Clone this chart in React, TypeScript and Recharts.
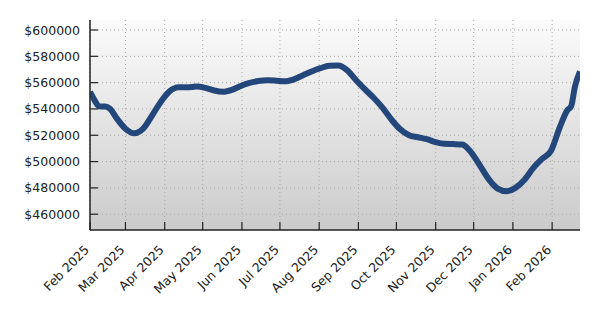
import React from 'react';
import { LineChart, Line, XAxis, YAxis, CartesianGrid } from 'recharts';

// sample dates and values
const dates = [
  '2025-02-01', '2025-02-05', '2025-02-08', '2025-02-13', '2025-02-17', '2025-02-22',
  '2025-03-01', '2025-03-08', '2025-03-15', '2025-03-22', '2025-03-29',
  '2025-04-05', '2025-04-12', '2025-04-19', '2025-04-26',
  '2025-05-03', '2025-05-10', '2025-05-17', '2025-05-24', '2025-05-31',
  '2025-06-07', '2025-06-14', '2025-06-21', '2025-06-28',
  '2025-07-05', '2025-07-12', '2025-07-19', '2025-07-26',
  '2025-08-02', '2025-08-09', '2025-08-16', '2025-08-23', '2025-08-30',
  '2025-09-06', '2025-09-13', '2025-09-20', '2025-09-27',
  '2025-10-04', '2025-10-11', '2025-10-18', '2025-10-25',
  '2025-11-01', '2025-11-08', '2025-11-15', '2025-11-22', '2025-11-29',
  '2025-12-06', '2025-12-13', '2025-12-20', '2025-12-27',
  '2026-01-03', '2026-01-10', '2026-01-17', '2026-01-24', '2026-01-31',
  '2026-02-07', '2026-02-13', '2026-02-16', '2026-02-19', '2026-02-23',
];

const prices = [
  553000, 546000, 542000, 541800, 540000, 533000,
  525000, 521500, 525000, 535000, 545500,
  553500, 556500, 556500, 557000,
  556000, 554000, 553000, 554500, 557500,
  559800, 561200, 561800, 561500,
  561000, 562500, 565500, 568500,
  571000, 572800, 573000, 569500, 562000,
  555000, 548500, 541000, 532000,
  524500, 520000, 518500, 517000,
  514800, 513500, 513300, 513000, 507000,
  497000, 486500, 479500, 477500,
  480000, 486000, 495000, 502000, 508000,
  526000, 539000, 542000, 557000, 568500,
];

const monthTicks = [
  '2025-02-01', '2025-03-01', '2025-04-01', '2025-05-01', '2025-06-01', '2025-07-01',
  '2025-08-01', '2025-09-01', '2025-10-01', '2025-11-01', '2025-12-01', '2026-01-01', '2026-02-01',
];
const monthLabels = [
  'Feb 2025', 'Mar 2025', 'Apr 2025', 'May 2025', 'Jun 2025', 'Jul 2025',
  'Aug 2025', 'Sep 2025', 'Oct 2025', 'Nov 2025', 'Dec 2025', 'Jan 2026', 'Feb 2026',
];
const priceTicks = [460000, 480000, 500000, 520000, 540000, 560000, 580000, 600000];

const START = Date.UTC(2025, 1, 1);
const toDay = (s: string) => {
  const [y, m, d] = s.split('-').map(Number);
  return Math.round((Date.UTC(y, m - 1, d) - START) / 86400000);
};

const data = dates.map((d, i) => ({ day: toDay(d), price: prices[i] }));
const tickDays = monthTicks.map(toDay);

const FONT = '"DejaVu Sans", sans-serif';
const INK = '#222';

const BottomTick = (props: any) => {
  const { x, y, payload } = props;
  const i = tickDays.indexOf(payload.value);
  return (
    <g>
      <line x1={x} x2={x} y1={y - 8} y2={y - 16} stroke={INK} strokeWidth={1.2} />
      <text
        x={x}
        y={y}
        dx={-9}
        dy={9}
        textAnchor="end"
        transform={`rotate(-45, ${x}, ${y})`}
        fontSize={12.5}
        fontFamily={FONT}
        fill={INK}
      >
        {monthLabels[i]}
      </text>
    </g>
  );
};

const TopTick = (props: any) => {
  const { x, y } = props;
  return <line x1={x} x2={x} y1={y + 8} y2={y + 16} stroke={INK} strokeWidth={1.2} />;
};

const LeftTick = (props: any) => {
  const { x, y, payload } = props;
  return (
    <g>
      <line x1={x + 10} x2={x + 18} y1={y} y2={y} stroke={INK} strokeWidth={1.2} />
      <text x={x} y={y} dy={4.5} textAnchor="end" fontSize={12.5} fontFamily={FONT} fill={INK}>
        {'$' + payload.value}
      </text>
    </g>
  );
};

const RightTick = (props: any) => {
  const { x, y } = props;
  return <line x1={x - 10} x2={x - 18} y1={y} y2={y} stroke={INK} strokeWidth={1.2} />;
};

export default function App() {
  return (
    <div style={{ position: 'absolute', left: 0, top: 0, width: 594, height: 325, background: '#fff' }}>
      <LineChart width={594} height={325} data={data} margin={{ top: 20, right: 14, left: 0, bottom: 0 }}>
        <defs>
          <linearGradient id="bg" x1="0" y1="0" x2="0" y2="1">
            <stop offset="0%" stopColor="#fbfbfb" />
            <stop offset="100%" stopColor="#cbcbcb" />
          </linearGradient>
        </defs>
        <CartesianGrid
          fill="url(#bg)"
          stroke="#a8a8a8"
          strokeDasharray="1 3"
          verticalValues={tickDays}
          horizontalValues={priceTicks}
        />
        <XAxis
          dataKey="day"
          type="number"
          domain={[0, 387]}
          allowDataOverflow
          ticks={tickDays}
          interval={0}
          height={95}
          tickSize={0}
          tickMargin={8}
          tickLine={false}
          axisLine={{ stroke: INK, strokeWidth: 1.5 }}
          tick={<BottomTick />}
        />
        <XAxis
          xAxisId="top"
          orientation="top"
          dataKey="day"
          type="number"
          domain={[0, 387]}
          allowDataOverflow
          ticks={tickDays}
          interval={0}
          height={0}
          tickSize={0}
          tickMargin={8}
          tickLine={false}
          axisLine={{ stroke: INK, strokeWidth: 1.5 }}
          tick={<TopTick />}
        />
        <YAxis
          type="number"
          domain={[448000, 607600]}
          allowDataOverflow
          ticks={priceTicks}
          interval={0}
          width={90}
          tickSize={0}
          tickMargin={10}
          tickLine={false}
          axisLine={{ stroke: INK, strokeWidth: 1.5 }}
          tick={<LeftTick />}
        />
        <YAxis
          yAxisId="r"
          orientation="right"
          type="number"
          domain={[448000, 607600]}
          allowDataOverflow
          ticks={priceTicks}
          interval={0}
          width={0}
          tickSize={0}
          tickMargin={10}
          tickLine={false}
          axisLine={{ stroke: INK, strokeWidth: 1.5 }}
          tick={<RightTick />}
        />
        <Line
          type="monotone"
          dataKey="price"
          stroke="#23467b"
          strokeWidth={6}
          dot={false}
          isAnimationActive={false}
        />
      </LineChart>
    </div>
  );
}
